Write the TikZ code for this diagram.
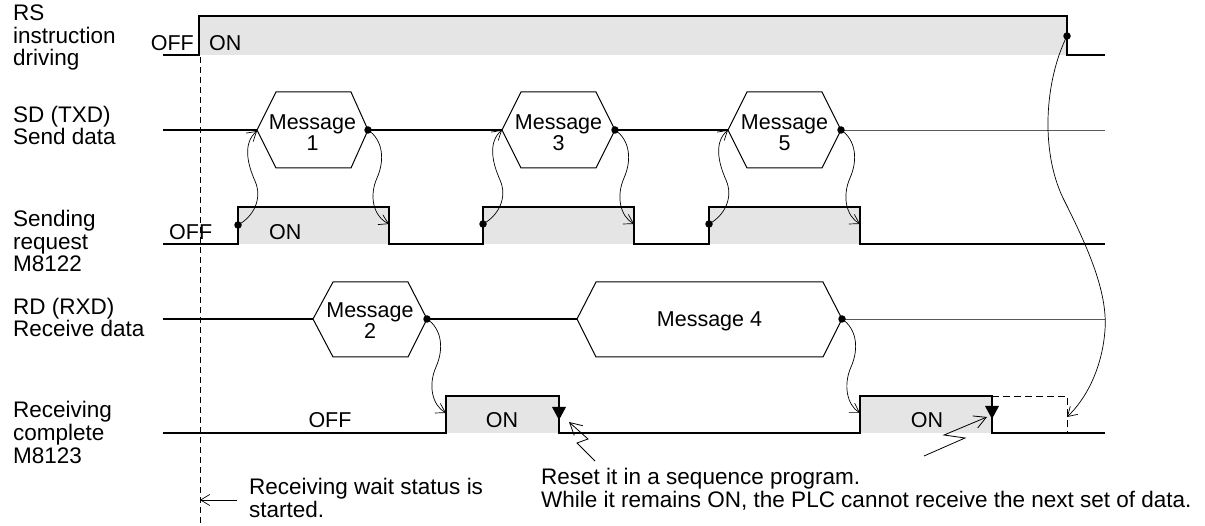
\documentclass[tikz,border=0pt]{standalone}
\usepackage{fontspec}
\setmainfont{Liberation Sans}
\usetikzlibrary{arrows.meta,calc}
\newcommand\dfont{\fontsize{21.5}{22.5}\selectfont}
\newcommand\lfont{\fontsize{22.5}{22.5}\selectfont}
\newcommand\mfont{\fontsize{21.5}{21}\selectfont}
\definecolor{onfill}{HTML}{E5E5E5}
\newcommand\upcurve[2]{\draw[conn] (#1.center) .. controls ($(#1.center)+(15,-8)$) and ($(#1.center)+(25,-26)$) .. ($(#1.center)+(17,-44)$) .. controls ($(#1.center)+(9,-62)$) and ($(#1.center)+(5,-82)$) .. (#2);}
\newcommand\dncurve[2]{\draw[conn] (#1.center) .. controls ($(#1.center)+(15,10)$) and ($(#1.center)+(17,30)$) .. ($(#1.center)+(9,48)$) .. controls ($(#1.center)+(1,66)$) and ($(#1.center)+(5,86)$) .. (#2);}
\begin{document}
\begin{tikzpicture}[x=1pt,y=-1pt,
  sig/.style={line width=1.3pt,line join=miter},
  thinsig/.style={line width=0.8pt,black!65},
  hex/.style={line width=1pt,line join=miter},
  conn/.style={line width=0.7pt,-{Straight Barb[length=9pt,width=11pt,line width=0.7pt]}},
  bolt/.style={line width=0.8pt,line join=miter,-{Straight Barb[length=12pt,width=13pt,line width=0.8pt]}},
  dotn/.style={circle,fill=black,inner sep=0pt,minimum size=7.5pt},
  txt/.style={inner sep=0pt,font=\dfont,align=left},
  ltxt/.style={inner sep=0pt,font=\lfont,align=left},
  msg/.style={inner sep=0pt,font=\mfont,align=center},
  vdash/.style={line width=0.8pt,dash pattern=on 6pt off 4pt},
  edash/.style={line width=0.8pt,dash pattern=on 7pt off 4pt},
]
\fill[white] (0,0) rectangle (1205,526);
\useasboundingbox (0,0) rectangle (1205,526);

% ---------- fills ----------
\fill[onfill] (199,16) rectangle (1067,55);
\fill[onfill] (238,207) rectangle (389,244);
\fill[onfill] (483,207) rectangle (634,244);
\fill[onfill] (709,207) rectangle (860,244);
\fill[onfill] (446,396) rectangle (559,433);
\fill[onfill] (860,396) rectangle (992,433);

% ---------- start of receiving wait (dashed) ----------
\draw[vdash] (200,57) -- (200,526);

% ---------- RS instruction driving ----------
\draw[sig] (163,55) -- (199,55) -- (199,16) -- (1067,16) -- (1067,55) -- (1105,55);

% ---------- SD (TXD) ----------
\draw[sig] (163,130) -- (257,130);
\draw[hex] (257,130) -- (276,92) -- (351,92) -- (368,130) -- (351,168) -- (276,168) -- cycle;
\draw[sig] (368,130) -- (502,130);
\draw[hex] (502,130) -- (521,92) -- (596,92) -- (615,130) -- (596,168) -- (521,168) -- cycle;
\draw[sig] (615,130) -- (728,130);
\draw[hex] (728,130) -- (747,92) -- (822,92) -- (841,130) -- (822,168) -- (747,168) -- cycle;
\draw[thinsig] (841,130) -- (1105,130);

% ---------- Sending request M8122 ----------
\draw[sig] (163,244) -- (238,244) -- (238,207) -- (389,207) -- (389,244) -- (483,244) -- (483,207) -- (634,207) -- (634,244) -- (709,244) -- (709,207) -- (860,207) -- (860,244) -- (1105,244);

% ---------- RD (RXD) ----------
\draw[sig] (163,319) -- (313,319);
\draw[hex] (313,319) -- (333,282) -- (408,282) -- (427,319) -- (408,357) -- (333,357) -- cycle;
\draw[sig] (427,319) -- (577,319);
\draw[hex] (577,319) -- (596,282) -- (823,282) -- (842,319) -- (823,357) -- (596,357) -- cycle;
\draw[thinsig] (842,319) -- (1105,319);

% ---------- Receiving complete M8123 ----------
\draw[sig] (163,433) -- (446,433) -- (446,396) -- (559,396) -- (559,433) -- (860,433) -- (860,396) -- (992,396) -- (992,433) -- (1105,433);
\draw[edash] (992,396) -- (1067,396) -- (1067,433);
\fill (552,407) -- (566,407) -- (559,420) -- cycle;
\fill (985,406) -- (999,406) -- (992,419) -- cycle;

% ---------- labels (base = last line) ----------
\node[ltxt,anchor=base west] (lrs) at (13,66) {RS\\instruction\\driving};
\node[ltxt,anchor=base west] (lsd) at (13,145) {SD (TXD)\\Send data};
\node[ltxt,anchor=base west] (lsr) at (13,272) {Sending\\request\\M8122};
\node[ltxt,anchor=base west] (lrd) at (13,337) {RD (RXD)\\Receive data};
\node[ltxt,anchor=base west] (lrc) at (13,463) {Receiving\\complete\\M8123};

\node[txt,anchor=base east] (rsoff) at (194,51) {OFF};
\node[txt,anchor=base west] (rson) at (209,51) {ON};
\node[txt,anchor=base west] (sroff) at (169,240) {OFF};
\node[txt,anchor=base west] (sron) at (269,240) {ON};
\node[txt,anchor=base] (rcoff) at (330,428) {OFF};
\node[txt,anchor=base] (rcon1) at (502,428) {ON};
\node[txt,anchor=base] (rcon2) at (927,428) {ON};

\node[msg,anchor=base] (m1) at (312.5,151) {Message\\1};
\node[msg,anchor=base] (m3) at (558.5,151) {Message\\3};
\node[msg,anchor=base] (m5) at (784.5,151) {Message\\5};
\node[msg,anchor=base] (m2) at (370,339) {Message\\2};
\node[msg,anchor=base] (m4) at (709.5,327) {Message 4};

\node[ltxt,anchor=base west] (nwait) at (249,517) {Receiving wait status is\\started.};
\node[ltxt,anchor=base west] (nreset) at (541,507) {Reset it in a sequence program.\\While it remains ON, the PLC cannot receive the next set of data.};

% ---------- dots ----------
\node[dotn] (drs) at (1067,36) {};
\node[dotn] (d1) at (368,130) {};
\node[dotn] (d3) at (615,130) {};
\node[dotn] (d5) at (841,130) {};
\node[dotn] (d2) at (427,319) {};
\node[dotn] (d4) at (842,319) {};
\node[dotn] (s1) at (238,225) {};
\node[dotn] (s2) at (483,224) {};
\node[dotn] (s3) at (709,224) {};

% ---------- targets ----------
\coordinate (h1) at (257,131);
\coordinate (h3) at (502,130);
\coordinate (h5) at (728,130);
\coordinate (f1) at (389,224);
\coordinate (f3) at (634,224);
\coordinate (f5) at (860,224);
\coordinate (r2) at (446,413);
\coordinate (r4) at (860,413);
\coordinate (trs) at (1067,417);

\upcurve{s1}{h1}
\upcurve{s2}{h3}
\upcurve{s3}{h5}
\dncurve{d1}{f1}
\dncurve{d3}{f3}
\dncurve{d5}{f5}
\dncurve{d2}{r2}
\dncurve{d4}{r4}
\draw[conn] (drs.center) .. controls (1045,80) and (1040,150) .. (1063,198) .. controls (1085,242) and (1108,290) .. (1105,330) .. controls (1102,370) and (1085,400) .. (trs);

% ---------- lightning arrows ----------
\coordinate (b1s) at (595,461);
\coordinate (b1t) at (569,422);
\draw[bolt] (b1s) -- (577,443) -- (588,439) -- (b1t);
\coordinate (b2s) at (924,456);
\coordinate (b2t) at (987,417);
\draw[bolt] (b2s) -- (965,438) -- (944,435) -- (b2t);

% ---------- receiving wait arrow ----------
\coordinate (wa) at (237,500);
\coordinate (wb) at (200,500);
\draw[conn] (wa) -- (wb);
\end{tikzpicture}
\end{document}
